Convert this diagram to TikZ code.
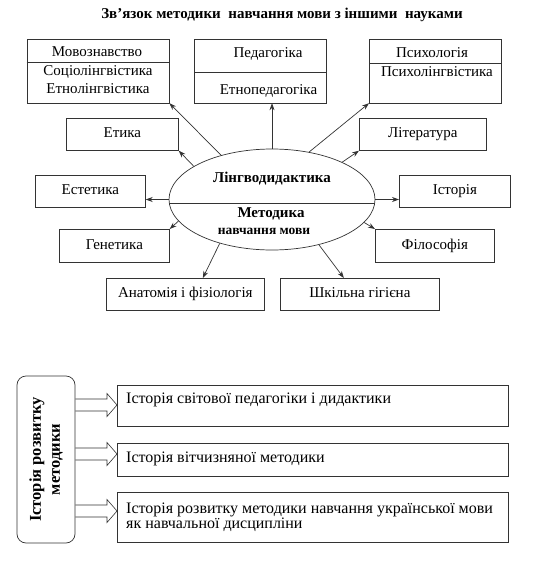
\documentclass[tikz,border=0pt]{standalone}
\usepackage{fontspec}
\setmainfont{Liberation Serif}
\usetikzlibrary{arrows.meta, calc, shapes.geometric}

\definecolor{linec}{HTML}{333333}

\begin{document}
\begin{tikzpicture}[x=1pt, y=-1pt, >=Stealth,
    box/.style={draw=linec, line width=0.7pt, inner sep=0pt, anchor=north west, text height=10pt, text depth=3pt, font=\fontsize{15}{18}\selectfont},
    txt/.style={inner sep=0pt, anchor=base, font=\fontsize{15}{18}\selectfont},
    bold/.style={inner sep=0pt, anchor=base, font=\fontsize{15}{18}\selectfont\bfseries},
    row/.style={inner sep=0pt, anchor=base west, font=\fontsize{16}{18}\selectfont},
    link/.style={-{Stealth[length=7pt,width=5pt]}, draw=linec, line width=0.7pt}]

    \useasboundingbox (0,0) rectangle (536,562);

    \node[bold, font=\fontsize{15}{17}\selectfont\bfseries] (title) at (282,18.3) {Зв’язок методики\ \ навчання мови з іншими\ \ науками};

    % upper boxes with two parts
    \node[box, minimum width=142pt, minimum height=64pt] (mov) at (26.7,38.5) {};
    \node[box, minimum width=132pt, minimum height=64pt] (ped) at (194,38.5) {};
    \node[box, minimum width=132pt, minimum height=64pt] (psy) at (369,38.5) {};
    \draw[draw=linec, line width=0.7pt] (mov.west |- 0,62) -- (mov.east |- 0,62);
    \draw[draw=linec, line width=0.7pt] (ped.west |- 0,72) -- (ped.east |- 0,72);
    \draw[draw=linec, line width=0.7pt] (psy.west |- 0,63) -- (psy.east |- 0,63);
    \node[txt] (movA) at (97,56.7) {Мовознавство};
    \node[txt] (movB) at (98,75) {Соціолінгвістика};
    \node[txt] (movC) at (98,93) {Етнолінгвістика};
    \node[txt] (pedA) at (268,57.5) {Педагогіка};
    \node[txt] (pedB) at (268.5,94) {Етнопедагогіка};
    \node[txt] (psyA) at (432,57.5) {Психологія};
    \node[txt] (psyB) at (437,76) {Психолінгвістика};

    \node[box, minimum width=112pt, minimum height=32.5pt] (eth) at (66,117.5) {Етика};
    \node[box, minimum width=127pt, minimum height=32.5pt] (lit) at (359,117.5) {Література};
    \node[box, minimum width=110pt, minimum height=32pt] (est) at (35,175) {Естетика};
    \node[box, minimum width=111pt, minimum height=32pt] (ist) at (399,175) {Історія};
    \node[box, minimum width=110pt, minimum height=32.5pt] (gen) at (59,229) {Генетика};
    \node[box, minimum width=119pt, minimum height=32.5pt] (phi) at (375,229) {Філософія};
    \node[box, minimum width=158pt, minimum height=32pt] (ana) at (106,278) {Анатомія і фізіологія};
    \node[box, minimum width=159pt, minimum height=32pt] (sch) at (280,278) {Шкільна гігієна};

    \node[draw=linec, line width=0.7pt, ellipse, minimum width=206pt, minimum height=101pt, inner sep=0pt] (ell) at (272,199.5) {};
    \draw[draw=linec, line width=0.7pt] (ell.182) -- (ell.-2);
    \node[bold] (lingvo) at (272,182) {Лінгводидактика};
    \node[bold] (metA) at (271,217) {Методика};
    \node[bold, font=\fontsize{13.5}{15}\selectfont\bfseries] (metB) at (264,234) {навчання мови};

    \foreach \a/\b in {139/mov.south east, 52/psy.south west, 157/eth.south east, 28/lit.south west, 193/gen.north east, -14/phi.north west}
        \draw[link] (ell.\a) -- (\b);
    \draw[link] (ell.north) -- (ell.north |- ped.south);
    \draw[link] (ell.west) -- (ell.west -| est.east);
    \draw[link] (ell.east) -- (ell.east -| ist.west);
    \draw[link] (ell.220) -- ($(ana.north west)!0.61!(ana.north east)$);
    \draw[link] (ell.-44) -- ($(sch.north west)!0.4!(sch.north east)$);

    % history block
    \node[draw=linec, line width=0.7pt, rounded corners=9pt, rotate=90, minimum width=167pt, minimum height=58pt, inner sep=0pt, align=center, font=\fontsize{16.5}{19}\selectfont\bfseries] (hist) at (46,459.5) {Історія розвитку\hspace{10pt}\\методики\hspace{10pt}};

    \node[box, minimum width=391pt, minimum height=41pt] (hb1) at (117,384.5) {};
    \node[box, minimum width=391pt, minimum height=33.5pt] (hb2) at (117,442.5) {};
    \node[box, minimum width=391pt, minimum height=50pt] (hb3) at (117,492) {};
    \node[row] (hb1t) at (126,403) {Історія світової педагогіки і дидактики};
    \node[row] (hb2t) at (126,462) {Історія вітчизняної методики};
    \node[row] (hb3t) at (126,513) {Історія розвитку методики навчання української мови};
    \node[row] (hb3u) at (126,528) {як навчальної дисципліни};

    \foreach \b/\y in {hb1/405, hb2/454, hb3/511}
        \draw[draw=linec, line width=0.6pt] (hist.south |- 0,\y-6) -- (107,\y-6) -- (107,\y-11.5) -- (\b.west |- 0,\y) -- (107,\y+11.5) -- (107,\y+6) -- (hist.south |- 0,\y+6);
\end{tikzpicture}
\end{document}
